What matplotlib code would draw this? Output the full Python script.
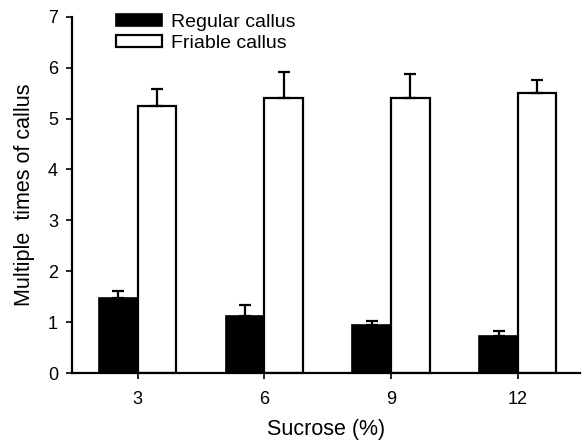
import numpy as np
import matplotlib.pyplot as plt

plt.rcParams['font.family'] = ['Liberation Sans', 'DejaVu Sans']

sucrose = ['3', '6', '9', '12']
regular = [1.48, 1.12, 0.94, 0.73]
regular_err = [0.13, 0.22, 0.08, 0.10]
friable = [5.25, 5.41, 5.41, 5.51]
friable_err = [0.34, 0.51, 0.47, 0.25]

x = np.arange(len(sucrose))
w = 0.305

fig = plt.figure(figsize=(5.84, 4.43), dpi=100)
ax = fig.add_axes([0.123, 0.158, 0.87, 0.804])

ax.bar(x - w / 2, regular, w, color='black', edgecolor='black', linewidth=1.2,
       yerr=[np.zeros(4), regular_err], error_kw=dict(ecolor='black', elinewidth=1.6, capsize=4, capthick=1.6),
       label='Regular callus')
ax.bar(x + w / 2, friable, w, color='white', edgecolor='black', linewidth=1.6,
       yerr=[np.zeros(4), friable_err], error_kw=dict(ecolor='black', elinewidth=1.6, capsize=4, capthick=1.6),
       label='Friable callus')

ax.set_xlim(-0.52, 3.49)
ax.set_ylim(0, 7)
ax.set_xticks(x)
ax.set_xticklabels(sucrose)
ax.set_yticks(range(8))
ax.tick_params(labelsize=13, length=4, width=1.2, direction='out')
ax.tick_params(axis='x', pad=9)
ax.tick_params(axis='y', pad=6)
ax.spines['top'].set_visible(False)
ax.spines['right'].set_visible(False)
ax.spines['left'].set_linewidth(1.6)
ax.spines['bottom'].set_linewidth(1.6)

ax.set_xlabel('Sucrose (%)', fontsize=15.5, labelpad=8)
ax.set_ylabel('Multiple  times of callus', fontsize=15.5, labelpad=9)

ax.legend(loc='upper left', bbox_to_anchor=(0.071, 1.03), frameon=False, fontsize=14,
          handlelength=2.4, handleheight=0.55, labelspacing=0.2, handletextpad=0.45, borderaxespad=0)

fig.savefig('out.png', dpi=100)
